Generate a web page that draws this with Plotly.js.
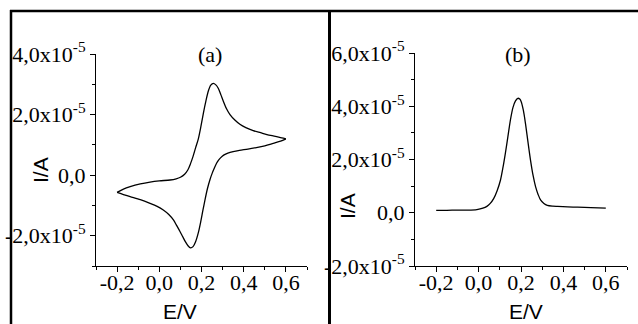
<!DOCTYPE html>
<html>
<head>
<meta charset="utf-8">
<script src="https://cdn.plot.ly/plotly-3.0.1.min.js"></script>
<style>html,body{margin:0;padding:0;background:#fff;}#chart{width:638px;height:324px;}</style>
</head>
<body>
<div id="chart"></div>
<script>
// Panel (a): cyclic voltammogram, forward (anodic) and reverse (cathodic) branches
const cvForwardE = [-0.200,-0.170,-0.138,-0.090,-0.044,0.000,0.051,0.080,0.100,0.120,0.135,0.148,0.160,0.172,0.185,0.197,0.209,0.221,0.232,0.244,0.256,0.268,0.280,0.292,0.303,0.318,0.335,0.358,0.382,0.410,0.445,0.480,0.510,0.550,0.580,0.600];
const cvForwardI = [-0.57,-0.46,-0.38,-0.29,-0.23,-0.19,-0.16,-0.12,-0.07,0.03,0.17,0.38,0.62,0.90,1.20,1.60,2.05,2.45,2.77,2.97,3.03,2.98,2.86,2.65,2.45,2.20,2.00,1.82,1.68,1.57,1.47,1.40,1.34,1.28,1.23,1.20];
const cvReverseE = [0.600,0.575,0.540,0.500,0.460,0.420,0.380,0.350,0.325,0.305,0.290,0.280,0.272,0.262,0.250,0.240,0.228,0.217,0.207,0.196,0.185,0.172,0.160,0.148,0.136,0.122,0.110,0.098,0.082,0.067,0.045,0.019,-0.010,-0.044,-0.090,-0.138,-0.170,-0.200];
const cvReverseI = [1.20,1.12,1.05,0.97,0.91,0.86,0.82,0.78,0.73,0.66,0.57,0.49,0.40,0.25,0.05,-0.15,-0.45,-0.80,-1.15,-1.55,-1.90,-2.20,-2.36,-2.40,-2.33,-2.18,-2.02,-1.86,-1.66,-1.48,-1.30,-1.15,-1.03,-0.93,-0.81,-0.71,-0.64,-0.57];

// Panel (b): differential pulse voltammogram
const dpvE = [-0.200,-0.150,-0.100,-0.050,-0.008,0.020,0.039,0.055,0.071,0.087,0.103,0.115,0.126,0.138,0.150,0.162,0.174,0.185,0.194,0.201,0.211,0.221,0.233,0.245,0.257,0.269,0.281,0.293,0.308,0.324,0.350,0.372,0.420,0.467,0.530,0.600];
const dpvI = [0.09,0.09,0.10,0.10,0.12,0.17,0.24,0.35,0.53,0.82,1.22,1.70,2.22,2.85,3.48,3.95,4.20,4.30,4.27,4.17,3.85,3.36,2.65,1.97,1.40,0.97,0.68,0.47,0.35,0.28,0.25,0.24,0.22,0.21,0.19,0.17];

const scale = 1e-5;

// Tick values / labels
const xTickVals = [-0.2, 0.0, 0.2, 0.4, 0.6];
const xTickText = ['-0,2', '0,0', '0,2', '0,4', '0,6'];
const xMinorVals = [-0.3, -0.1, 0.1, 0.3, 0.5, 0.7];

const yaTickVals = [-2e-5, 0, 2e-5, 4e-5];
const yaTickText = ['-2,0x10<sup>-5</sup>', '0,0', '2,0x10<sup>-5</sup>', '4,0x10<sup>-5</sup>'];
const yaMinorVals = [-3e-5, -1e-5, 1e-5, 3e-5];

const ybTickVals = [-2e-5, 0, 2e-5, 4e-5, 6e-5];
const ybTickText = ['-2,0x10<sup>-5</sup>', '0,0', '2,0x10<sup>-5</sup>', '4,0x10<sup>-5</sup>', '6,0x10<sup>-5</sup>'];
const ybMinorVals = [-1e-5, 1e-5, 3e-5, 5e-5];

const W = 638, H = 324;
const px = v => v / W;
const py = v => 1 - v / H;

const lineStyle = {color: '#000', width: 1.3, shape: 'spline', smoothing: 0.8};
const hiddenLine = {color: 'rgba(0,0,0,0)', width: 0};
const toI = arr => arr.map(v => v * scale);

const traces = [
  {x: cvForwardE, y: toI(cvForwardI), xaxis: 'x', yaxis: 'y', mode: 'lines', line: lineStyle, showlegend: false, hoverinfo: 'skip'},
  {x: cvReverseE, y: toI(cvReverseI), xaxis: 'x', yaxis: 'y', mode: 'lines', line: lineStyle, showlegend: false, hoverinfo: 'skip'},
  {x: dpvE, y: toI(dpvI), xaxis: 'x2', yaxis: 'y2', mode: 'lines', line: lineStyle, showlegend: false, hoverinfo: 'skip'},
  // invisible copies that attach the label-only x axes
  {x: cvForwardE, y: toI(cvForwardI), xaxis: 'x3', yaxis: 'y', mode: 'lines', line: hiddenLine, showlegend: false, hoverinfo: 'skip'},
  {x: dpvE, y: toI(dpvI), xaxis: 'x4', yaxis: 'y2', mode: 'lines', line: hiddenLine, showlegend: false, hoverinfo: 'skip'}
];

const tickFont = {family: 'Liberation Serif', size: 22, color: '#000'};
const titleFont = {family: 'Liberation Sans', size: 21, color: '#000'};

// x axis with the line and tick marks (no labels)
function xAxis(domain, anchor) {
  return {
    domain: domain, anchor: anchor, range: [-0.3, 0.7],
    showline: true, linecolor: '#000', linewidth: 1,
    showgrid: false, zeroline: false, showticklabels: false,
    ticks: 'outside', ticklen: 5, tickwidth: 1, tickcolor: '#000',
    tickmode: 'array', tickvals: xTickVals,
    minor: {tickmode: 'array', tickvals: xMinorVals, ticks: 'outside', ticklen: 3, tickwidth: 1, tickcolor: '#000', showgrid: false},
    fixedrange: true
  };
}
// overlay x axis carrying only the labels
function xLabelAxis(overlay, pos) {
  return {
    overlaying: overlay, anchor: 'free', position: pos, side: 'bottom', range: [-0.3, 0.7],
    showline: false, showgrid: false, zeroline: false,
    ticks: '', tickmode: 'array', tickvals: xTickVals, ticktext: xTickText,
    tickfont: tickFont,
    fixedrange: true
  };
}
function yAxis(domain, anchor, range, vals, text, minor) {
  return {
    domain: domain, anchor: anchor, range: range,
    showline: true, linecolor: '#000', linewidth: 1,
    showgrid: false, zeroline: false,
    ticks: 'outside', ticklen: 5, tickwidth: 1, tickcolor: '#000',
    tickmode: 'array', tickvals: vals, ticktext: text,
    tickfont: tickFont,
    minor: {tickmode: 'array', tickvals: minor, ticks: 'outside', ticklen: 3, tickwidth: 1, tickcolor: '#000', showgrid: false},
    fixedrange: true
  };
}

const layout = {
  width: W, height: H,
  margin: {l: 0, r: 0, t: 0, b: 0},
  paper_bgcolor: '#fff', plot_bgcolor: '#fff',
  showlegend: false,
  font: {family: 'Liberation Serif', color: '#000'},
  xaxis: xAxis([px(96), px(307)], 'y'),
  yaxis: yAxis([py(266), py(54)], 'x', [-3e-5, 4e-5], yaTickVals, yaTickText, yaMinorVals),
  xaxis2: xAxis([px(415), px(627)], 'y2'),
  yaxis2: yAxis([py(266), py(53)], 'x2', [-2e-5, 6e-5], ybTickVals, ybTickText, ybMinorVals),
  xaxis3: xLabelAxis('x', py(267)),
  xaxis4: xLabelAxis('x2', py(267)),
  annotations: [
    {text: '(a)', xref: 'paper', yref: 'paper', x: px(210), y: py(55), showarrow: false, font: tickFont, xanchor: 'center', yanchor: 'middle'},
    {text: '(b)', xref: 'paper', yref: 'paper', x: px(518), y: py(55), showarrow: false, font: tickFont, xanchor: 'center', yanchor: 'middle'},
    {text: 'I/A', xref: 'paper', yref: 'paper', x: px(40), y: py(170), showarrow: false, font: titleFont, textangle: -90, xanchor: 'center', yanchor: 'middle'},
    {text: 'I/A', xref: 'paper', yref: 'paper', x: px(347), y: py(206), showarrow: false, font: titleFont, textangle: -90, xanchor: 'center', yanchor: 'middle'},
    {text: 'E/V', xref: 'paper', yref: 'paper', x: px(180), y: py(311), showarrow: false, font: titleFont, xanchor: 'center', yanchor: 'middle'},
    {text: 'E/V', xref: 'paper', yref: 'paper', x: px(526), y: py(311), showarrow: false, font: titleFont, xanchor: 'center', yanchor: 'middle'}
  ],
  shapes: [
    {type: 'line', xref: 'paper', yref: 'paper', x0: px(10), x1: 1, y0: py(11), y1: py(11), line: {color: '#000', width: 2.5}},
    {type: 'line', xref: 'paper', yref: 'paper', x0: px(11), x1: px(11), y0: py(10), y1: py(330), line: {color: '#000', width: 2.5}},
    {type: 'line', xref: 'paper', yref: 'paper', x0: px(329.5), x1: px(329.5), y0: py(10), y1: py(330), line: {color: '#000', width: 3}}
  ]
};

Plotly.newPlot('chart', traces, layout, {staticPlot: true, displayModeBar: false});
</script>
</body>
</html>
